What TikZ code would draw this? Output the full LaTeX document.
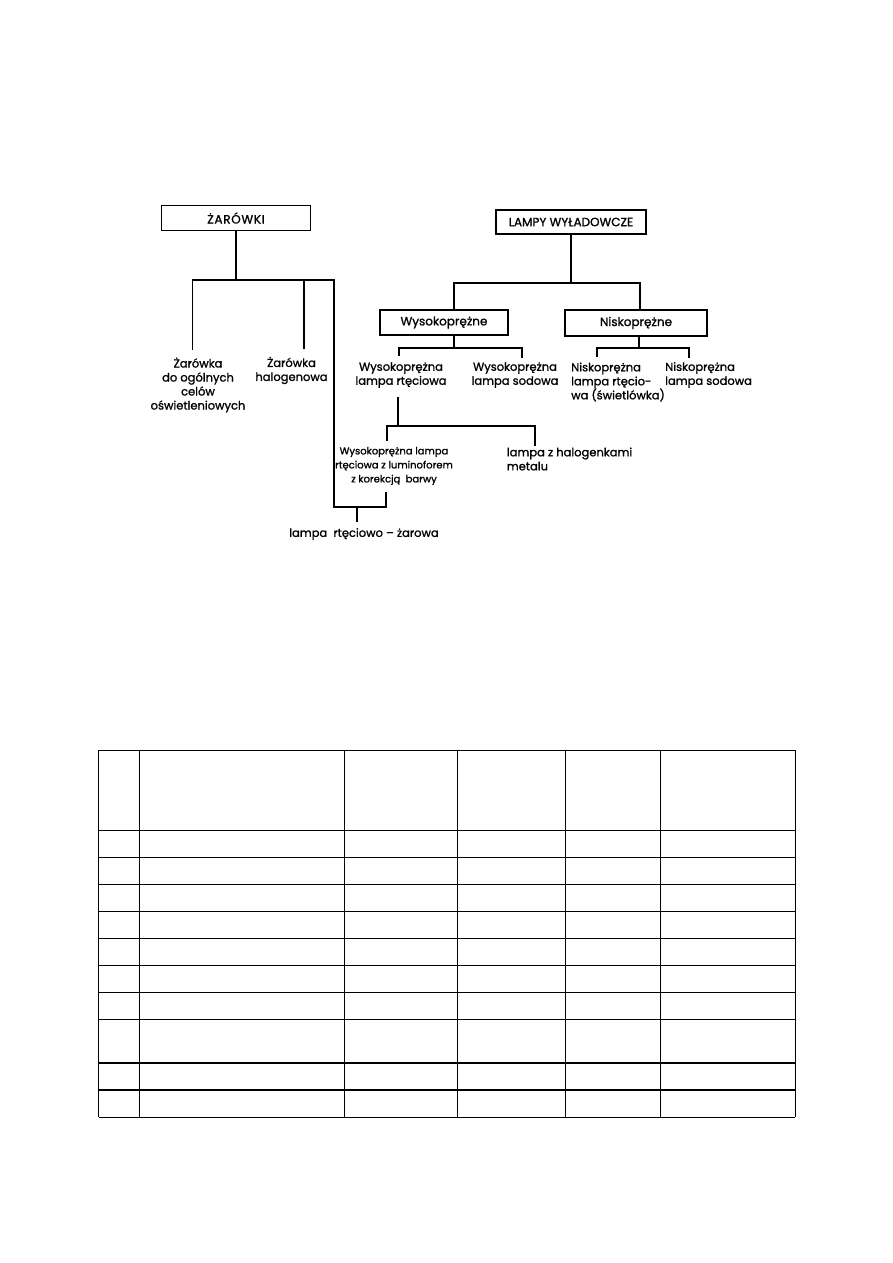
\documentclass[tikz,border=0pt]{standalone}
\usepackage{fontspec}
\setmainfont{Poppins}[FakeBold=1.2]
\begin{document}
\begin{tikzpicture}[x=1pt,y=-1pt,
  conn/.style={line width=1.8pt,line cap=rect},
  boxnode/.style={draw,line width=1.8pt,inner sep=0pt,font=\fontsize{12}{14}\selectfont},
  lbl/.style={inner sep=0pt,font=\fontsize{11.5}{14}\selectfont},
  grid/.style={line width=1.5pt}]
\useasboundingbox (0,0) rectangle (893,1263);
% ---------- boxes ----------
\node[boxnode,minimum width=149pt,minimum height=25pt,font=\fontsize{12}{14}\selectfont\addfontfeature{LetterSpace=6}] (zar) at (236,218) {ŻARÓWKI};
\node[boxnode,minimum width=150pt,minimum height=24pt] (lampy) at (571,222) {LAMPY WYŁADOWCZE};
\node[boxnode,minimum width=128pt,minimum height=25pt] (wys) at (444,322.5) {Wysokoprężne};
\node[boxnode,minimum width=142pt,minimum height=26pt] (nis) at (636,323) {Niskoprężne};
% ---------- labels ----------
\node[lbl,align=center] (zog) at (198,385) {Żarówka\\do ogólnych\\celów\\oświetleniowych};
\node[lbl,align=center] (zhal) at (291.5,370.5) {Żarówka\\halogenowa};
\node[lbl,align=center] (wrt) at (401,375) {Wysokoprężna\\lampa rtęciowa};
\node[lbl,align=center] (wsod) at (515,375) {Wysokoprężna\\lampa sodowa};
\node[lbl,align=left,anchor=west] (nrt) at (571,382) {Niskoprężna\\lampa rtęcio-\\wa (świetlówka)};
\node[lbl,align=left,anchor=west] (nsod) at (665,375) {Niskoprężna\\lampa sodowa};
\node[lbl,align=center,font=\fontsize{10}{14}\selectfont] (wlum) at (394,466) {Wysokoprężna lampa\\rtęciowa z luminoforem\\z korekcją \ barwy};
\node[lbl,align=left,anchor=west] (hal) at (506.7,459) {lampa z halogenkami\\metalu};
\node[lbl] (rz) at (364,534) {lampa \ rtęciowo – żarowa};
% ---------- junction coordinates ----------
\coordinate (zj) at (236,280);
\coordinate (zjL) at (192.5,280);
\coordinate (zjM) at (304,280);
\coordinate (zjR) at (334,280);
\coordinate (zogT) at (192.5,349);
\coordinate (zhalT) at (304,348);
\coordinate (rzL) at (334,507);
\coordinate (rzR) at (386,507);
\coordinate (rzM) at (357,507);
\coordinate (wlumB) at (386,493);
\coordinate (rzT) at (357,521);
\coordinate (lj) at (571,283);
\coordinate (ljL) at (454,283);
\coordinate (ljR) at (640,283);
\coordinate (wj) at (454,348);
\coordinate (wjL) at (399,348);
\coordinate (wjR) at (522,348);
\coordinate (wrtT) at (399,355);
\coordinate (wsodT) at (522,357);
\coordinate (nj) at (639,348);
\coordinate (njL) at (597,348);
\coordinate (njR) at (689,348);
\coordinate (nrtT) at (597,356);
\coordinate (nsodT) at (689,357);
\coordinate (wrtB) at (398,398);
\coordinate (mj) at (398,426);
\coordinate (mjL) at (386.7,426);
\coordinate (mjR) at (535,426);
\coordinate (wlumT) at (386.7,440);
\coordinate (halT) at (535,445);
% ---------- connectors ----------
\draw[conn] (zar.south) -- (zj);
\draw[conn] (zogT) -- (zjL) -- (zjR) -- (rzL) -- (rzR) -- (wlumB);
\draw[conn] (zjM) -- (zhalT);
\draw[conn] (rzM) -- (rzT);
\draw[conn] (lampy.south) -- (lj);
\draw[conn] (wys.north -| ljL) -- (ljL) -- (ljR) -- (nis.north -| ljR);
\draw[conn] (wys.south -| wj) -- (wj);
\draw[conn] (wrtT) -- (wjL) -- (wjR) -- (wsodT);
\draw[conn] (nis.south -| nj) -- (nj);
\draw[conn] (nrtT) -- (njL) -- (njR) -- (nsodT);
\draw[conn] (wrtB) -- (mj);
\draw[conn] (wlumT) -- (mjL) -- (mjR) -- (halT);
% ---------- table ----------
\foreach \x in {98.5,139.3,344.3,457.7,565.7,660.5,795.3}
  \draw[grid] (\x,750.3) -- (\x,1117.3);
\foreach \y in {750.3,830.3,857.3,884.3,911.3,938.3,965.3,992.3,1019.3,1063,1090.2,1117.3}
  \draw[grid] (98.5,\y) -- (795.3,\y);
\end{tikzpicture}
\end{document}
